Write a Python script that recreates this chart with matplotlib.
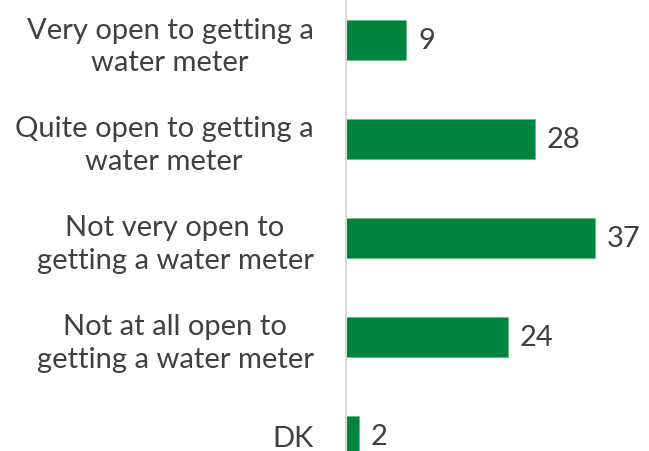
import matplotlib
matplotlib.use("Agg")
import matplotlib.pyplot as plt

categories = ["Very open to getting a\nwater meter",
              "Quite open to getting a\nwater meter",
              "Not very open to\ngetting a water meter",
              "Not at all open to\ngetting a water meter",
              "DK"]
values = [9, 28, 37, 24, 2]

plt.rcParams['font.family'] = ['Lato', 'DejaVu Sans']

fig = plt.figure(figsize=(6.49, 4.52), dpi=100)
ax = fig.add_axes([345.5 / 649, 0, 1 - 345.5 / 649, 1])

pos = list(range(len(values)))
ax.barh(pos, values, height=0.404, color='#00843D', edgecolor='#5FBF7F', linewidth=0.6)
ax.set_xlim(0, (649 - 345.5) / 6.75)
ax.set_ylim((452 - 41) / 99, -41 / 99)

for p, v in zip(pos, values):
    ax.text(v + 1.75, p, str(v), va='center', ha='left', fontsize=21, color='#404040')

ax.set_yticks(pos)
ax.set_yticklabels(categories, fontsize=21, color='#404040',
                   multialignment='center', linespacing=1.3)
ax.tick_params(axis='y', length=0, pad=23)
ax.set_xticks([])
for s in ['top', 'right', 'bottom']:
    ax.spines[s].set_visible(False)
ax.spines['left'].set_color('#D9D9D9')
ax.spines['left'].set_linewidth(1.5)

fig.savefig('out.png', dpi=100)
